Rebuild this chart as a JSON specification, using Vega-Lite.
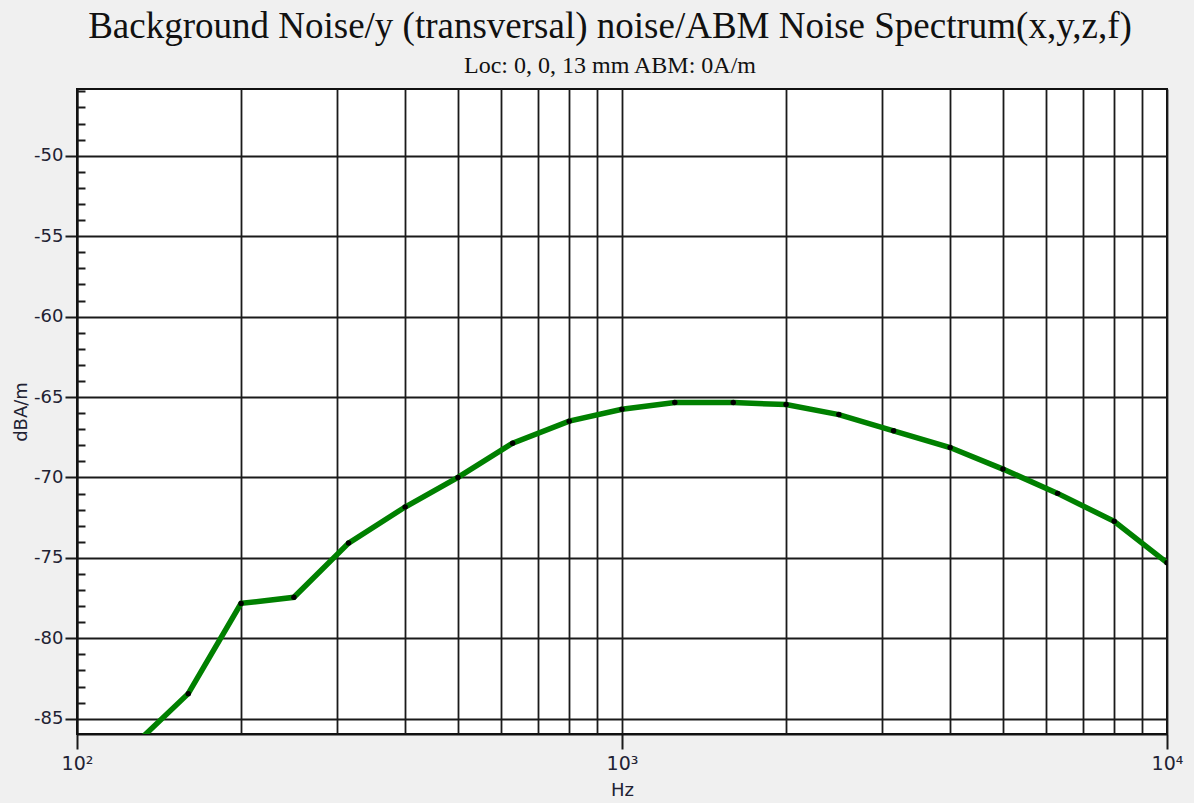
{
  "$schema": "https://vega.github.io/schema/vega-lite/v6.json",
  "width": 1090,
  "height": 645,
  "autosize": {"type": "none"},
  "padding": {"left": 77, "top": 89, "right": 27, "bottom": 69},
  "background": "#f0f0f0",
  "title": {
    "text": "Background Noise/y (transversal) noise/ABM Noise Spectrum(x,y,z,f)",
    "subtitle": "Loc: 0, 0, 13 mm ABM: 0A/m",
    "font": "Liberation Serif",
    "fontSize": 37,
    "fontWeight": "normal",
    "color": "#111111",
    "subtitleFont": "Liberation Serif",
    "subtitleFontSize": 24,
    "subtitleColor": "#111111",
    "subtitlePadding": 8,
    "anchor": "middle",
    "frame": "group",
    "offset": 10,
    "dx": -12
  },
  "config": {
    "view": {"fill": "white", "stroke": "#111111", "strokeWidth": 2}
  },
  "data": {
    "values": [
      {"f": 125, "v": -86.9},
      {"f": 160, "v": -83.44},
      {"f": 200, "v": -77.83},
      {"f": 250, "v": -77.45},
      {"f": 315, "v": -74.08},
      {"f": 400, "v": -71.84},
      {"f": 500, "v": -70.0},
      {"f": 630, "v": -67.87},
      {"f": 800, "v": -66.5},
      {"f": 1000, "v": -65.76},
      {"f": 1250, "v": -65.34},
      {"f": 1600, "v": -65.34},
      {"f": 2000, "v": -65.47},
      {"f": 2500, "v": -66.09},
      {"f": 3150, "v": -67.1},
      {"f": 4000, "v": -68.14},
      {"f": 5000, "v": -69.48},
      {"f": 6300, "v": -70.99},
      {"f": 8000, "v": -72.73},
      {"f": 10000, "v": -75.3}
    ]
  },
  "layer": [
    {
      "mark": {"type": "line", "color": "#008000", "strokeWidth": 5.5, "clip": true},
      "encoding": {
        "x": {
          "field": "f", "type": "quantitative",
          "scale": {"type": "log", "domain": [100, 10000], "nice": false},
          "axis": {
            "orient": "bottom",
            "values": [100, 200, 300, 400, 500, 600, 700, 800, 900, 1000, 2000, 3000, 4000, 5000, 6000, 7000, 8000, 9000, 10000],
            "grid": true, "gridColor": "#1a1a1a", "gridWidth": 1.8, "gridOpacity": 1,
            "ticks": false, "labels": false, "domain": false, "title": null
          }
        },
        "y": {
          "field": "v", "type": "quantitative",
          "scale": {"domain": [-85.95, -45.85], "nice": false, "zero": false},
          "axis": {
            "orient": "left",
            "values": [-85, -80, -75, -70, -65, -60, -55, -50],
            "grid": true, "gridColor": "#1a1a1a", "gridWidth": 1.8, "gridOpacity": 1,
            "ticks": true, "tickSize": 12, "tickColor": "#1a1a1a", "tickWidth": 2,
            "labelExpr": "replace(datum.label, '−', '-')",
            "labelFont": "DejaVu Sans", "labelFontSize": 18, "labelColor": "#222233", "labelPadding": 2,
            "domain": true, "domainColor": "#111111", "domainWidth": 2,
            "title": "dBA/m", "titleFont": "DejaVu Sans", "titleFontSize": 18, "titleFontWeight": "normal", "titleColor": "#222233", "titlePadding": 3
          }
        }
      }
    },
    {
      "mark": {"type": "point", "filled": true, "color": "black", "size": 30, "opacity": 1, "clip": true},
      "encoding": {
        "x": {
          "field": "f", "type": "quantitative",
          "scale": {"type": "log", "domain": [100, 10000], "nice": false},
          "axis": {
            "orient": "bottom",
            "values": [100, 1000, 10000],
            "grid": false,
            "ticks": true, "tickSize": 15, "tickColor": "#1a1a1a", "tickWidth": 2,
            "labelExpr": "datum.value == 100 ? '10²' : datum.value == 1000 ? '10³' : '10⁴'",
            "labelFlush": false, "labelBound": false, "labelOverlap": false,
            "labelFont": "DejaVu Sans", "labelFontSize": 19, "labelColor": "#222233", "labelPadding": 5,
            "domain": true, "domainColor": "#111111", "domainWidth": 2,
            "title": "Hz", "titleFont": "DejaVu Sans", "titleFontSize": 18, "titleFontWeight": "normal", "titleColor": "#222233", "titlePadding": 8
          }
        },
        "y": {
          "field": "v", "type": "quantitative",
          "scale": {"domain": [-85.95, -45.85], "nice": false, "zero": false},
          "axis": {
            "orient": "left",
            "values": [-84, -83, -82, -81, -79, -78, -77, -76, -74, -73, -72, -71, -69, -68, -67, -66, -64, -63, -62, -61, -59, -58, -57, -56, -54, -53, -52, -51, -49, -48, -47, -46],
            "grid": false, "labels": false, "domain": false, "title": null,
            "ticks": true, "tickSize": -8, "tickColor": "#1a1a1a", "tickWidth": 2
          }
        }
      }
    }
  ],
  "resolve": {"axis": {"x": "independent", "y": "independent"}}
}
